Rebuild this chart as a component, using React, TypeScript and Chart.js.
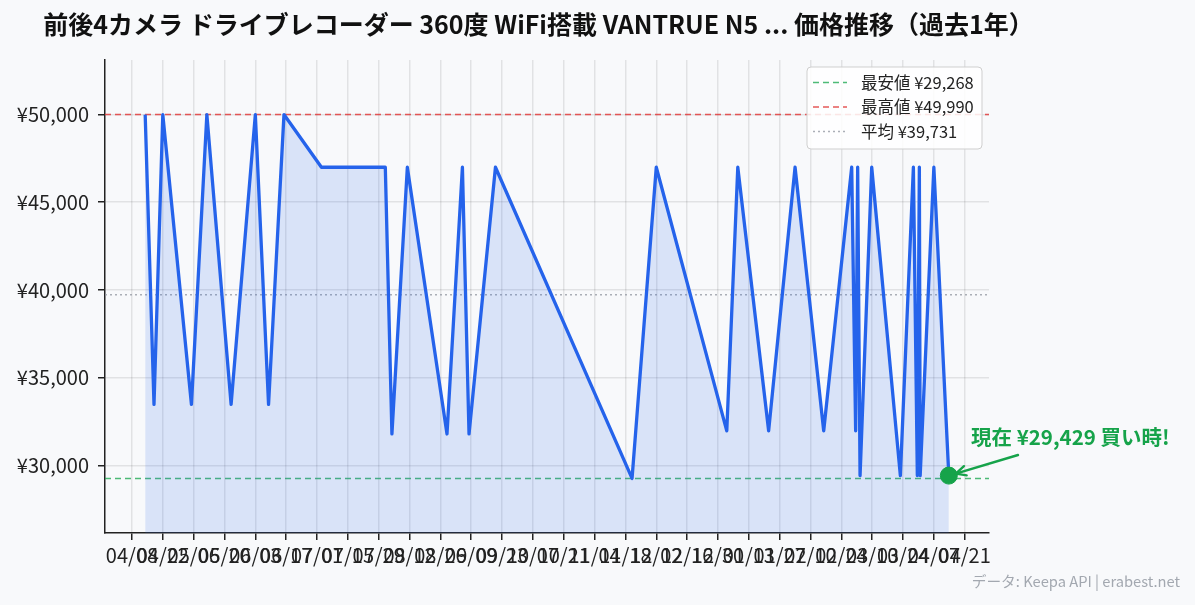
import React, { useEffect, useRef } from 'react';
import { Chart, registerables } from 'chart.js';

Chart.register(...registerables);

const TITLE = '前後4カメラ ドライブレコーダー 360度 WiFi搭載 VANTRUE N5 ... 価格推移（過去1年）';
const BASE_DATE = '2024-04-08T00:00:00Z';

const priceDates: string[] = [
  '2024-04-14T00:00:00Z', '2024-04-18T00:00:00Z', '2024-04-22T00:00:00Z', '2024-05-05T00:00:00Z',
  '2024-05-12T00:00:00Z', '2024-05-23T00:00:00Z', '2024-06-03T00:00:00Z', '2024-06-09T00:00:00Z',
  '2024-06-16T00:00:00Z', '2024-07-03T00:00:00Z', '2024-08-01T00:00:00Z', '2024-08-04T00:00:00Z',
  '2024-08-11T00:00:00Z', '2024-08-29T00:00:00Z', '2024-09-05T00:00:00Z', '2024-09-08T00:00:00Z',
  '2024-09-20T00:00:00Z', '2024-11-21T00:00:00Z', '2024-12-02T00:00:00Z', '2025-01-03T00:00:00Z',
  '2025-01-08T00:00:00Z', '2025-01-22T00:00:00Z', '2025-02-03T00:00:00Z', '2025-02-16T00:00:00Z',
  '2025-02-28T17:00:00Z', '2025-03-02T12:00:00Z', '2025-03-03T10:00:00Z', '2025-03-04T12:00:00Z',
  '2025-03-09T19:00:00Z', '2025-03-22T19:00:00Z', '2025-03-28T17:00:00Z', '2025-03-30T12:00:00Z',
  '2025-03-31T10:00:00Z', '2025-03-31T19:00:00Z', '2025-04-07T00:00:00Z', '2025-04-13T19:00:00Z',
];

const prices: number[] = [
  49990, 33480, 49990, 33480,
  49990, 33480, 49990, 33480,
  49990, 46990, 46990, 31800,
  46990, 31800, 46990, 31800,
  46990, 29268, 46990, 31980,
  46990, 31980, 46990, 31980,
  46990, 31980, 46990, 29429,
  46990, 29429, 46990, 29429,
  46990, 29429, 46990, 29429,
];

const xTickDates: string[] = [
  '2024-04-08', '2024-04-22', '2024-05-06', '2024-05-20', '2024-06-03', '2024-06-17', '2024-07-01',
  '2024-07-15', '2024-07-29', '2024-08-12', '2024-08-26', '2024-09-09', '2024-09-23', '2024-10-07',
  '2024-10-21', '2024-11-04', '2024-11-18', '2024-12-02', '2024-12-16', '2024-12-30', '2025-01-13',
  '2025-01-27', '2025-02-10', '2025-02-24', '2025-03-10', '2025-03-24', '2025-04-07', '2025-04-21',
];
const xTickLabels: string[] = [
  '04/08', '04/22', '05/06', '05/20', '06/03', '06/17', '07/01',
  '07/15', '07/29', '08/12', '08/26', '09/09', '09/23', '10/07',
  '10/21', '11/04', '11/18', '12/02', '12/16', '12/30', '01/13',
  '01/27', '02/10', '02/24', '03/10', '03/24', '04/07', '04/21',
];
const yTicks: number[] = [30000, 35000, 40000, 45000, 50000];

const MIN_PRICE = 29268;
const MAX_PRICE = 49990;
const AVG_PRICE = 39731;
const CURRENT_PRICE = 29429;

const legendLabels: string[] = ['最安値 ¥29,268', '最高値 ¥49,990', '平均 ¥39,731'];
const ANNOTATION = '現在 ¥29,429 買い時!';
const FOOTER = 'データ: Keepa API | erabest.net';

const FONT = '"Noto Sans CJK JP", "Noto Sans", sans-serif';
const BG = '#f8f9fb';
const LINE = '#2563eb';
const GREEN = '#16a34a';
const MIN_COLOR = 'rgba(34,170,85,0.8)';
const MAX_COLOR = 'rgba(225,60,60,0.85)';
const AVG_COLOR = 'rgba(150,155,165,0.8)';

const toDay = (s: string) => (Date.parse(s.length === 10 ? s + 'T00:00:00Z' : s) - Date.parse(BASE_DATE)) / 86400000;

export default function App() {
  const ref = useRef<HTMLCanvasElement | null>(null);

  useEffect(() => {
    document.body.style.margin = '0';
    document.body.style.background = BG;
    const canvas = ref.current;
    if (!canvas) return;

    const days = priceDates.map(toDay);
    const tickDays = xTickDates.map(toDay);
    const span = days[days.length - 1] - days[0];
    const xMin = days[0] - span * 0.05;
    const xMax = days[days.length - 1] + span * 0.05;
    const yRange = MAX_PRICE - MIN_PRICE;
    const yMin = MIN_PRICE - yRange * 0.15;
    const yMax = MAX_PRICE + yRange * 0.15;

    const mainData = days.map((d, i) => ({ x: d, y: prices[i] }));
    const hline = (v: number) => [{ x: xMin, y: v }, { x: xMax, y: v }];

    const bgPlugin = {
      id: 'bg',
      beforeDraw(chart: any) {
        const c = chart.ctx;
        c.save();
        c.fillStyle = BG;
        c.fillRect(0, 0, chart.width, chart.height);
        c.restore();
      },
    };

    const textPlugin = {
      id: 'texts',
      afterDraw(chart: any) {
        const c = chart.ctx as CanvasRenderingContext2D;
        const xs = chart.scales.x;
        const ys = chart.scales.y;
        c.save();
        // title
        c.fillStyle = '#111';
        c.font = `bold 25px ${FONT}`;
        c.textAlign = 'center';
        c.textBaseline = 'middle';
        c.fillText(TITLE, 538.5, 24);

        // legend
        const lx = 807, ly = 67, lw = 175, lh = 82;
        c.beginPath();
        (c as any).roundRect(lx, ly, lw, lh, 4);
        c.fillStyle = 'rgba(255,255,255,0.85)';
        c.fill();
        c.strokeStyle = '#cfcfcf';
        c.lineWidth = 1;
        c.stroke();
        const rows = [
          { color: MIN_COLOR, dash: [6, 4] },
          { color: MAX_COLOR, dash: [6, 4] },
          { color: AVG_COLOR, dash: [2, 3] },
        ];
        c.font = `16.5px ${FONT}`;
        c.textAlign = 'left';
        c.textBaseline = 'middle';
        rows.forEach((r, i) => {
          const yy = 82.5 + i * 24.5;
          c.beginPath();
          c.setLineDash(r.dash);
          c.strokeStyle = r.color;
          c.lineWidth = 1.5;
          c.moveTo(813, yy);
          c.lineTo(847, yy);
          c.stroke();
          c.setLineDash([]);
          c.fillStyle = '#222';
          c.fillText(legendLabels[i], 861, yy);
        });

        // annotation arrow
        const px = xs.getPixelForValue(days[days.length - 1]);
        const py = ys.getPixelForValue(CURRENT_PRICE);
        const sx = 1018, sy = 455;
        const ex = px + 7, ey = py - 2;
        c.strokeStyle = GREEN;
        c.fillStyle = GREEN;
        c.lineWidth = 2.4;
        c.lineCap = 'round';
        c.beginPath();
        c.moveTo(sx, sy);
        c.lineTo(ex, ey);
        c.stroke();
        const ang = Math.atan2(ey - sy, ex - sx);
        const ah = 11;
        c.beginPath();
        c.moveTo(ex, ey);
        c.lineTo(ex - ah * Math.cos(ang - 0.45), ey - ah * Math.sin(ang - 0.45));
        c.moveTo(ex, ey);
        c.lineTo(ex - ah * Math.cos(ang + 0.45), ey - ah * Math.sin(ang + 0.45));
        c.stroke();

        c.font = `bold 20.5px ${FONT}`;
        c.textAlign = 'left';
        c.textBaseline = 'middle';
        c.fillText(ANNOTATION, 971, 437);

        // footer
        c.font = `14.7px ${FONT}`;
        c.fillStyle = '#a3a8b0';
        c.textAlign = 'right';
        c.fillText(FOOTER, 1180, 581);
        c.restore();
      },
    };

    const chart = new Chart(canvas, {
      type: 'line',
      data: {
        datasets: [
          {
            label: 'current',
            data: [{ x: days[days.length - 1], y: CURRENT_PRICE }],
            pointRadius: 8.5,
            pointBackgroundColor: GREEN,
            pointBorderColor: GREEN,
            showLine: false,
            order: 0,
          } as any,
          {
            label: 'price',
            data: mainData,
            borderColor: LINE,
            borderWidth: 3.3,
            borderJoinStyle: 'round',
            backgroundColor: 'rgba(37,99,235,0.15)',
            fill: 'start',
            pointRadius: 0,
            tension: 0,
            order: 1,
          },
          {
            label: legendLabels[0],
            data: hline(MIN_PRICE),
            borderColor: MIN_COLOR,
            borderWidth: 1.5,
            borderDash: [6, 4],
            pointRadius: 0,
            fill: false,
            order: 2,
          },
          {
            label: legendLabels[1],
            data: hline(MAX_PRICE),
            borderColor: MAX_COLOR,
            borderWidth: 1.5,
            borderDash: [6, 4],
            pointRadius: 0,
            fill: false,
            order: 2,
          },
          {
            label: legendLabels[2],
            data: hline(AVG_PRICE),
            borderColor: AVG_COLOR,
            borderWidth: 1.5,
            borderDash: [2, 3],
            pointRadius: 0,
            fill: false,
            order: 2,
          },
        ],
      },
      options: {
        responsive: false,
        animation: false,
        events: [],
        layout: { padding: { top: 60, right: 206, bottom: 0, left: 0 } },
        plugins: {
          legend: { display: false },
          title: { display: false },
          tooltip: { enabled: false },
        },
        scales: {
          x: {
            type: 'linear',
            min: xMin,
            max: xMax,
            afterBuildTicks: (s: any) => {
              s.ticks = tickDays.map((v) => ({ value: v }));
            },
            afterFit: (s: any) => {
              s.height = 72;
            },
            ticks: {
              autoSkip: false,
              maxRotation: 0,
              minRotation: 0,
              padding: 3,
              color: '#222',
              font: { family: FONT, size: 20 },
              callback: (_v: any, i: number) => xTickLabels[i],
            },
            grid: {
              color: 'rgba(0,0,0,0.09)',
              lineWidth: 1.5,
              tickColor: '#222',
              tickLength: 7,
            },
            border: { color: '#222', width: 1.5 },
          },
          y: {
            type: 'linear',
            min: yMin,
            max: yMax,
            afterBuildTicks: (s: any) => {
              s.ticks = yTicks.map((v) => ({ value: v }));
            },
            afterFit: (s: any) => {
              s.width = 105;
            },
            ticks: {
              padding: 9,
              color: '#222',
              font: { family: FONT, size: 20 },
              callback: (v: any) => '¥' + Number(v).toLocaleString('en-US'),
            },
            grid: {
              color: 'rgba(0,0,0,0.09)',
              lineWidth: 1.5,
              tickColor: '#222',
              tickLength: 7,
            },
            border: { color: '#222', width: 1.5 },
          },
        },
      },
      plugins: [bgPlugin, textPlugin],
    } as any);

    return () => chart.destroy();
  }, []);

  return (
    <div style={{ position: 'absolute', left: 0, top: 0, width: 1195, height: 605, background: BG }}>
      <canvas ref={ref} width={1195} height={605} style={{ width: 1195, height: 605, display: 'block' }} />
    </div>
  );
}
